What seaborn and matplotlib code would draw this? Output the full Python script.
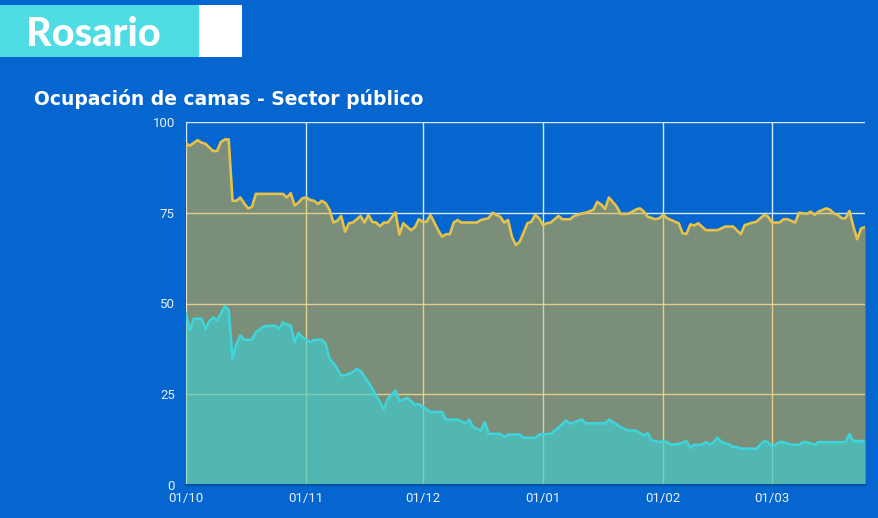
import matplotlib
matplotlib.use("Agg")
import matplotlib.pyplot as plt
from matplotlib.patches import Rectangle
import pandas as pd
import seaborn as sns

# ---------------- data ----------------
total_dates = [
    "2020-10-01", "2020-10-02", "2020-10-04", "2020-10-05", "2020-10-06", "2020-10-07",
    "2020-10-08", "2020-10-09", "2020-10-10", "2020-10-11", "2020-10-12", "2020-10-13",
    "2020-10-14", "2020-10-15", "2020-10-16", "2020-10-17", "2020-10-18", "2020-10-19",
    "2020-10-26", "2020-10-27", "2020-10-28", "2020-10-29", "2020-10-30", "2020-10-31",
    "2020-11-01", "2020-11-02", "2020-11-03", "2020-11-04", "2020-11-05", "2020-11-06",
    "2020-11-07", "2020-11-08", "2020-11-09", "2020-11-10", "2020-11-11", "2020-11-12",
    "2020-11-13", "2020-11-15", "2020-11-16", "2020-11-17", "2020-11-18", "2020-11-19",
    "2020-11-20", "2020-11-21", "2020-11-22", "2020-11-24", "2020-11-25", "2020-11-26",
    "2020-11-28", "2020-11-29", "2020-11-30", "2020-12-01", "2020-12-02", "2020-12-03",
    "2020-12-05", "2020-12-06", "2020-12-07", "2020-12-08", "2020-12-09", "2020-12-10",
    "2020-12-11", "2020-12-15", "2020-12-16", "2020-12-18", "2020-12-19", "2020-12-21",
    "2020-12-22", "2020-12-23", "2020-12-24", "2020-12-25", "2020-12-26", "2020-12-27",
    "2020-12-28", "2020-12-29", "2020-12-30", "2020-12-31", "2021-01-01", "2021-01-02",
    "2021-01-03", "2021-01-04", "2021-01-05", "2021-01-06", "2021-01-08", "2021-01-09",
    "2021-01-11", "2021-01-12", "2021-01-14", "2021-01-15", "2021-01-16", "2021-01-17",
    "2021-01-18", "2021-01-20", "2021-01-21", "2021-01-23", "2021-01-25", "2021-01-26",
    "2021-01-27", "2021-01-28", "2021-01-30", "2021-01-31", "2021-02-01", "2021-02-02",
    "2021-02-03", "2021-02-05", "2021-02-06", "2021-02-07", "2021-02-08", "2021-02-09",
    "2021-02-10", "2021-02-12", "2021-02-15", "2021-02-17", "2021-02-19", "2021-02-21",
    "2021-02-22", "2021-02-24", "2021-02-25", "2021-02-27", "2021-02-28", "2021-03-01",
    "2021-03-03", "2021-03-04", "2021-03-05", "2021-03-07", "2021-03-08", "2021-03-10",
    "2021-03-11", "2021-03-12", "2021-03-13", "2021-03-15", "2021-03-16", "2021-03-17",
    "2021-03-18", "2021-03-19", "2021-03-20", "2021-03-21", "2021-03-22", "2021-03-23",
    "2021-03-24", "2021-03-25",
]
total_values = [
    94.0, 93.5, 95.0, 94.3, 94.0, 93.0,
    92.0, 92.0, 94.5, 95.2, 95.2, 78.3,
    78.3, 79.2, 77.6, 76.2, 76.6, 80.2,
    80.2, 79.2, 80.4, 77.0, 77.8, 79.0,
    79.2, 78.5, 78.3, 77.4, 78.3, 77.6,
    75.8, 72.3, 72.8, 74.1, 69.8, 72.1,
    72.3, 74.1, 72.3, 74.4, 72.5, 72.3,
    71.3, 72.3, 72.3, 75.1, 69.0, 72.1,
    70.2, 71.0, 73.2, 72.5, 72.5, 74.4,
    70.2, 68.4, 69.1, 69.1, 72.3, 73.0,
    72.3, 72.3, 73.0, 73.5, 75.0, 73.9,
    72.3, 73.0, 68.4, 66.1, 67.0, 69.5,
    72.1, 72.5, 74.4, 73.5, 71.6, 72.1,
    72.3, 73.2, 74.1, 73.2, 73.2, 74.1,
    74.8, 75.0, 75.8, 78.0, 77.3, 76.0,
    79.2, 76.7, 74.7, 74.7, 75.9, 76.2,
    75.3, 73.9, 73.2, 73.5, 74.4, 73.5,
    73.0, 72.1, 69.3, 69.2, 71.8, 71.5,
    72.1, 70.2, 70.2, 71.2, 71.2, 69.1,
    71.6, 72.3, 72.5, 74.4, 74.0, 72.3,
    72.3, 73.2, 73.2, 72.3, 75.0, 74.7,
    75.3, 74.4, 75.3, 76.2, 75.8, 74.8,
    74.4, 73.5, 73.5, 75.5, 71.2, 67.7,
    70.7, 71.0,
]

covid_dates = [
    "2020-10-01", "2020-10-02", "2020-10-03", "2020-10-05", "2020-10-06", "2020-10-07",
    "2020-10-08", "2020-10-09", "2020-10-11", "2020-10-12", "2020-10-13", "2020-10-14",
    "2020-10-15", "2020-10-16", "2020-10-18", "2020-10-19", "2020-10-20", "2020-10-21",
    "2020-10-24", "2020-10-25", "2020-10-26", "2020-10-27", "2020-10-28", "2020-10-29",
    "2020-10-30", "2020-10-31", "2020-11-02", "2020-11-03", "2020-11-05", "2020-11-06",
    "2020-11-07", "2020-11-08", "2020-11-10", "2020-11-11", "2020-11-13", "2020-11-14",
    "2020-11-15", "2020-11-17", "2020-11-18", "2020-11-21", "2020-11-22", "2020-11-24",
    "2020-11-25", "2020-11-27", "2020-11-29", "2020-11-30", "2020-12-01", "2020-12-03",
    "2020-12-06", "2020-12-07", "2020-12-10", "2020-12-12", "2020-12-13", "2020-12-14",
    "2020-12-16", "2020-12-17", "2020-12-18", "2020-12-21", "2020-12-22", "2020-12-23",
    "2020-12-26", "2020-12-27", "2020-12-30", "2020-12-31", "2021-01-03", "2021-01-05",
    "2021-01-07", "2021-01-08", "2021-01-11", "2021-01-12", "2021-01-17", "2021-01-18",
    "2021-01-20", "2021-01-21", "2021-01-23", "2021-01-25", "2021-01-27", "2021-01-28",
    "2021-01-29", "2021-01-31", "2021-02-01", "2021-02-02", "2021-02-03", "2021-02-05",
    "2021-02-07", "2021-02-08", "2021-02-09", "2021-02-11", "2021-02-12", "2021-02-13",
    "2021-02-14", "2021-02-15", "2021-02-16", "2021-02-18", "2021-02-19", "2021-02-20",
    "2021-02-21", "2021-02-25", "2021-02-27", "2021-02-28", "2021-03-01", "2021-03-03",
    "2021-03-04", "2021-03-06", "2021-03-08", "2021-03-09", "2021-03-10", "2021-03-12",
    "2021-03-13", "2021-03-20", "2021-03-21", "2021-03-22", "2021-03-25",
]
covid_values = [
    47.2, 42.6, 45.8, 45.8, 43.0, 45.1,
    46.1, 45.3, 49.2, 48.3, 34.8, 38.9,
    41.2, 40.0, 40.0, 42.1, 42.8, 43.7,
    43.9, 43.0, 44.8, 44.2, 43.9, 39.3,
    41.9, 40.7, 39.3, 40.0, 40.0, 38.9,
    34.8, 33.6, 30.2, 30.2, 31.1, 32.0,
    31.4, 28.3, 26.5, 21.0, 23.7, 26.0,
    23.1, 24.0, 22.2, 22.2, 21.6, 20.1,
    20.1, 18.0, 18.0, 17.0, 18.0, 15.9,
    15.0, 17.3, 14.1, 14.1, 13.2, 13.9,
    13.9, 13.0, 13.0, 13.9, 14.1, 15.8,
    17.8, 16.9, 18.0, 17.0, 17.0, 18.0,
    16.7, 15.9, 15.0, 15.0, 13.6, 14.3,
    12.3, 11.8, 12.1, 11.8, 11.1, 11.3,
    12.1, 10.2, 11.1, 11.1, 11.8, 11.1,
    11.8, 13.0, 11.8, 11.2, 10.4, 10.5,
    10.0, 10.0, 12.1, 11.8, 10.6, 11.8,
    11.8, 11.1, 11.1, 11.8, 11.8, 11.1,
    11.8, 11.8, 14.0, 12.1, 12.1,
]

y_ticks = [0, 25, 50, 75, 100]
x_tick_dates = ["2020-10-01", "2020-11-01", "2020-12-01", "2021-01-01",
                "2021-02-01", "2021-03-01"]
x_tick_labels = ["01/10", "01/11", "01/12", "01/01", "01/02", "01/03"]

header_text = "Rosario"
title_text = "Ocupación de camas - Sector público"

# ---------------- styling ----------------
BG = "#0466CE"
YELLOW_LINE = "#E6C24A"
YELLOW_FILL = "#F0B626"
CYAN_LINE = "#3FD3DA"
CYAN_FILL = "#3BD1D4"
BOX_CYAN = "#4FDCE4"

sns.set_theme(style="white")
plt.rcParams["font.family"] = ["Roboto", "DejaVu Sans"]

df_total = pd.DataFrame({"fecha": pd.to_datetime(total_dates), "valor": total_values,
                         "serie": "Total"})
df_covid = pd.DataFrame({"fecha": pd.to_datetime(covid_dates), "valor": covid_values,
                         "serie": "Covid"})
df = pd.concat([df_total, df_covid], ignore_index=True)

fig = plt.figure(figsize=(8.79, 5.18), dpi=100, facecolor=BG)
ax = fig.add_axes([186 / 879, 1 - 485 / 518, (865 - 186) / 879, (485 - 122) / 518])
ax.set_facecolor(BG)

# areas
ax.fill_between(df_total["fecha"], 0, df_total["valor"], color=YELLOW_FILL,
                alpha=0.5, linewidth=0, zorder=2)
ax.fill_between(df_covid["fecha"], 0, df_covid["valor"], color=CYAN_FILL,
                alpha=0.62, linewidth=0, zorder=2.1)

sns.lineplot(data=df, x="fecha", y="valor", hue="serie",
             palette={"Total": YELLOW_LINE, "Covid": CYAN_LINE},
             linewidth=1.9, legend=False, ax=ax, zorder=3)

ax.set_xlim(pd.Timestamp("2020-10-01"), pd.Timestamp("2021-03-25"))
ax.set_ylim(0, 100)
ax.set_xlabel("")
ax.set_ylabel("")

ax.set_yticks(y_ticks)
ax.set_yticklabels([str(v) for v in y_ticks])
ax.set_xticks(pd.to_datetime(x_tick_dates))
ax.set_xticklabels(x_tick_labels)
ax.tick_params(axis="both", length=0, colors="#EAF1FA", labelsize=9.5)
ax.tick_params(axis="y", pad=8)
ax.tick_params(axis="x", pad=5)

ax.set_axisbelow(True)
ax.grid(True, color="white", linewidth=1.0, alpha=0.85)

for side in ["top", "right", "left"]:
    ax.spines[side].set_visible(False)
ax.spines["bottom"].set_color("#0A4FA0")
ax.spines["bottom"].set_linewidth(1.5)

# header box
fig.patches.append(Rectangle((0, 1 - 57 / 518), 199 / 879, 52 / 518,
                             transform=fig.transFigure, facecolor=BOX_CYAN,
                             edgecolor="none", zorder=0))
fig.patches.append(Rectangle((199 / 879, 1 - 57 / 518), 43 / 879, 52 / 518,
                             transform=fig.transFigure, facecolor="white",
                             edgecolor="none", zorder=0))
fig.text(26 / 879, 1 - 34 / 518, header_text, color="white", fontsize=28.5,
         fontweight="black", family=["Lato", "DejaVu Sans"],
         va="center", ha="left")
fig.text(34 / 879, 1 - 99 / 518, title_text, color="white", fontsize=13.5,
         fontweight="bold", family=["DejaVu Sans"],
         va="center", ha="left")

fig.savefig("out.png", dpi=100, facecolor=BG)
